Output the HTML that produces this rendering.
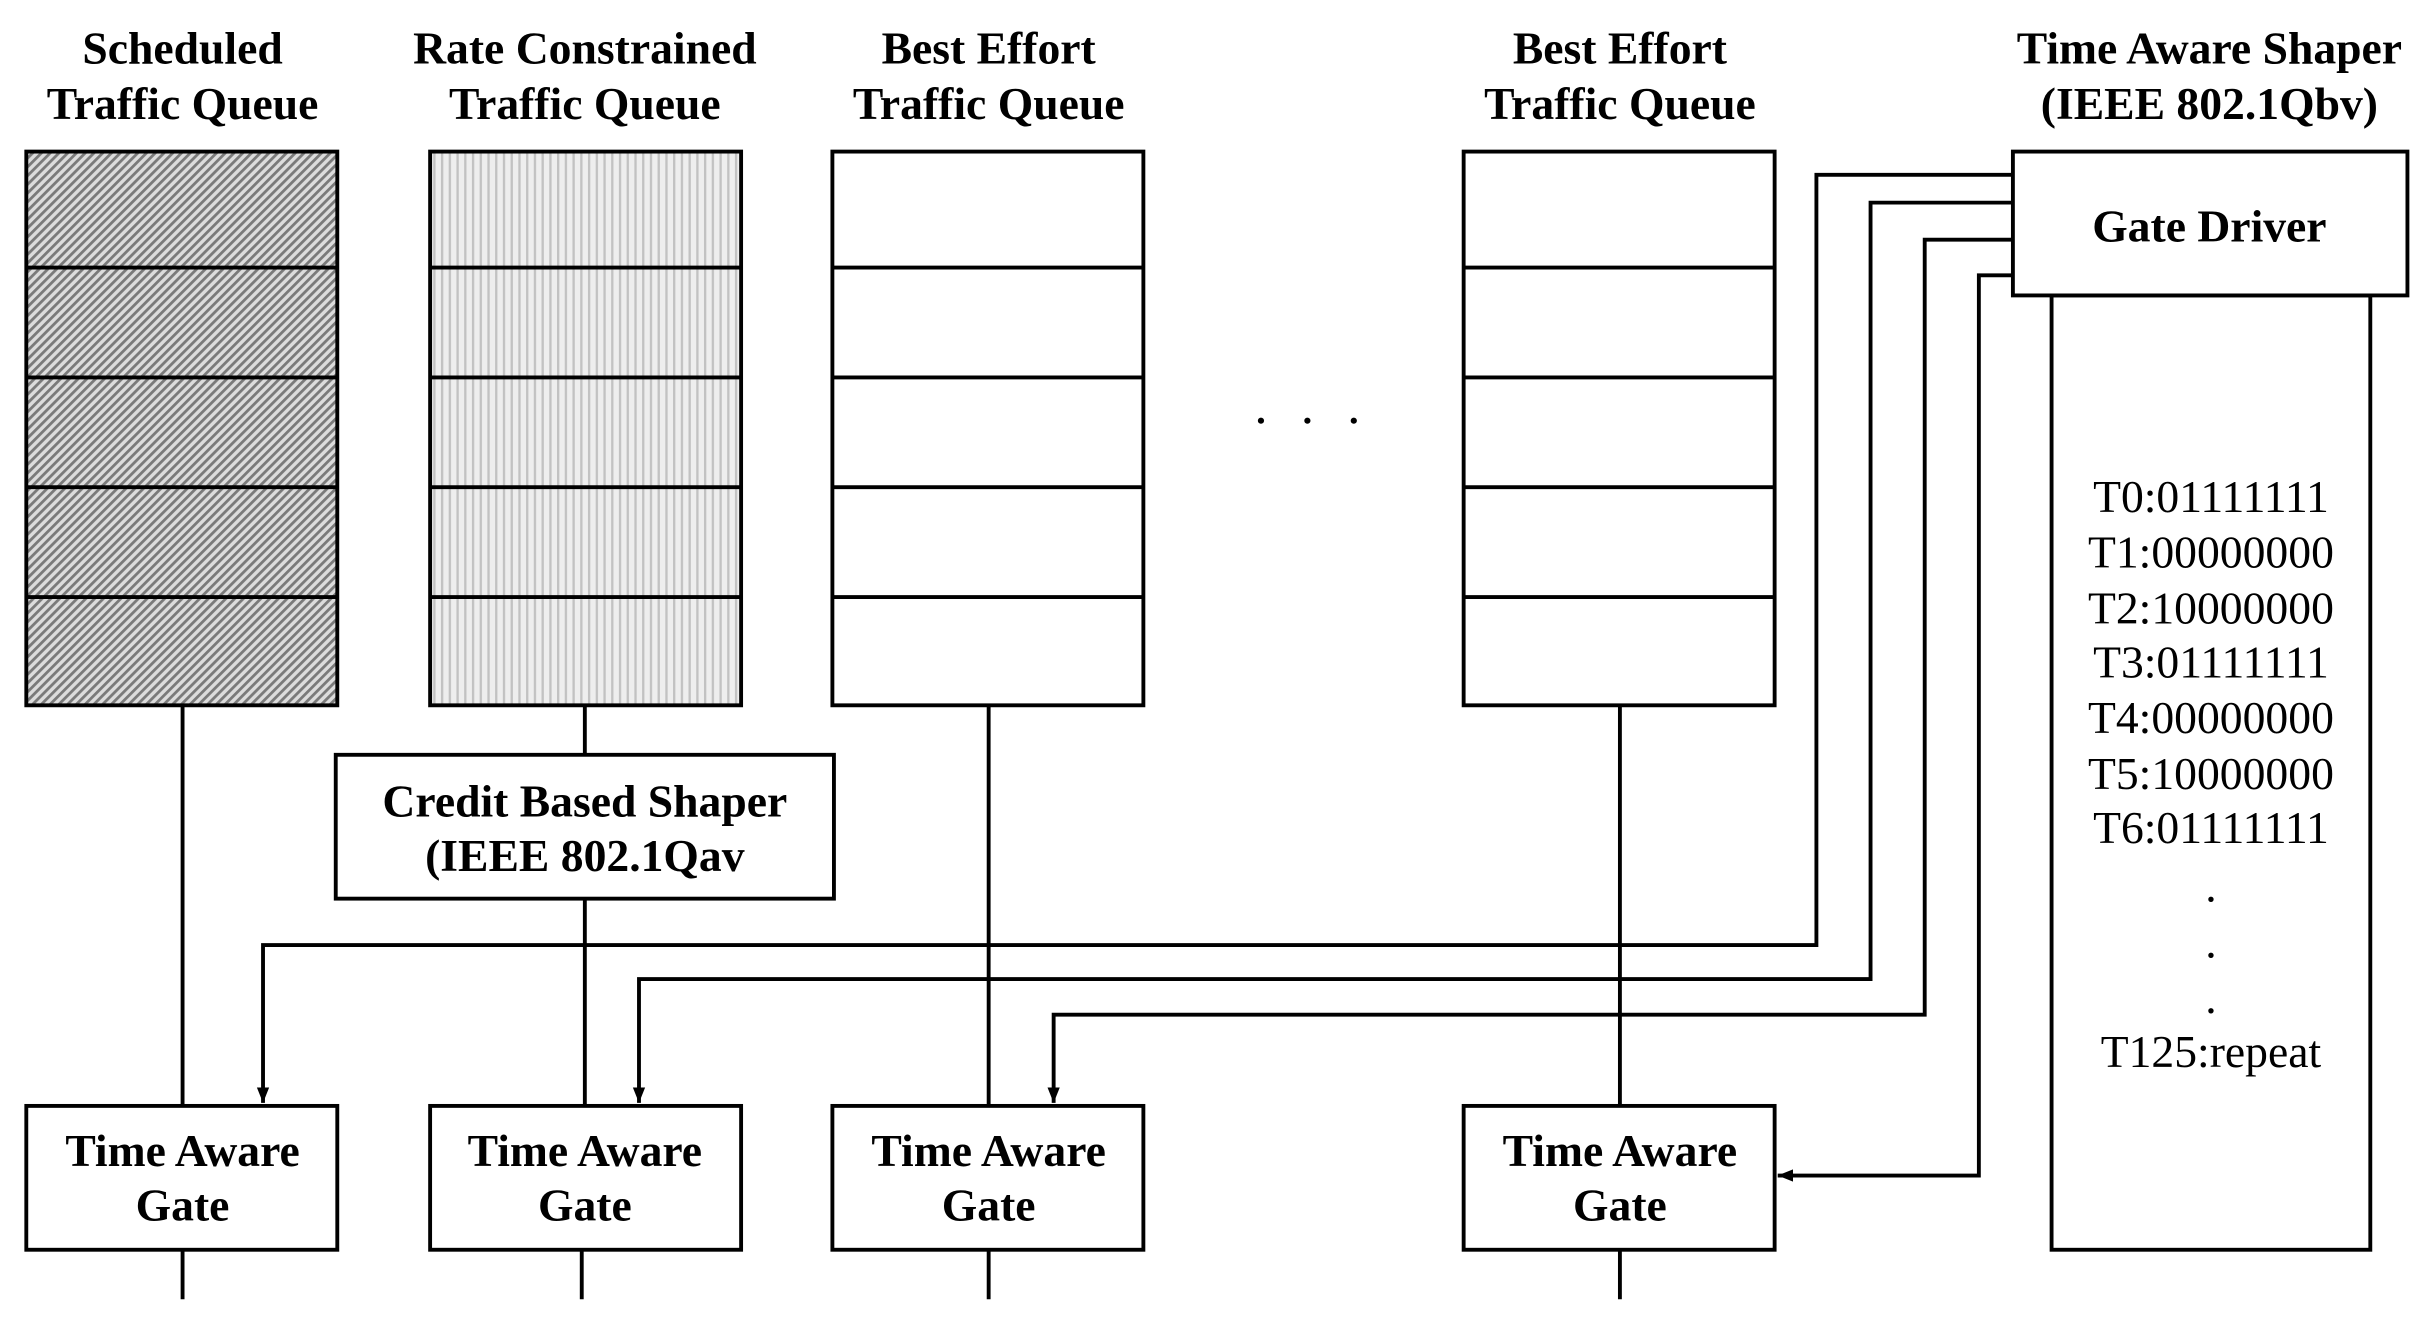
<!DOCTYPE html>
<html><head><meta charset="utf-8"><style>
html,body{margin:0;padding:0;background:#fff;}
svg{display:block;}
text{font-family:"Liberation Serif",serif;fill:#000;}
.b{font-weight:bold;font-size:29.5px;}
.r{font-size:29.5px;}
</style></head><body>
<svg width="2426" height="1324" viewBox="0 0 1568 856" preserveAspectRatio="none" xmlns="http://www.w3.org/2000/svg">
<defs>
<pattern id="hatch" width="4" height="4" patternUnits="userSpaceOnUse" patternTransform="rotate(45)">
<rect width="4" height="4" fill="#dcdcdc"/><rect width="1.8" height="4" fill="#7a7a7a"/>
</pattern>
<pattern id="vert" width="5" height="4" patternUnits="userSpaceOnUse">
<rect width="5" height="4" fill="#eeeeee"/><rect width="1.5" height="4" fill="#c2c2c2"/>
</pattern>
<marker id="ah" viewBox="0 0 10 10" refX="10" refY="5" markerWidth="10" markerHeight="10" markerUnits="userSpaceOnUse" orient="auto">
<path d="M0,1 L10,5 L0,9 z" fill="#000"/>
</marker>
</defs>
<g stroke="#000" stroke-width="2.5" fill="none">
<rect x="17" y="98" width="201" height="358" fill="url(#hatch)"/>
<rect x="278" y="98" width="201" height="358" fill="url(#vert)"/>
<rect x="538" y="98" width="201" height="358" fill="#fff"/>
<rect x="946" y="98" width="201" height="358" fill="#fff"/>
<path d="M17 173H218M17 244H218M17 315H218M17 386H218"/>
<path d="M278 173H479M278 244H479M278 315H479M278 386H479"/>
<path d="M538 173H739M538 244H739M538 315H739M538 386H739"/>
<path d="M946 173H1147M946 244H1147M946 315H1147M946 386H1147"/>
<rect x="217" y="488" width="322" height="93" fill="#fff"/>
<rect x="17" y="715" width="201" height="93"/>
<rect x="278" y="715" width="201" height="93"/>
<rect x="538" y="715" width="201" height="93"/>
<rect x="946" y="715" width="201" height="93"/>
<rect x="1326" y="191" width="206" height="617"/>
<rect x="1301" y="98" width="255" height="93" fill="#fff"/>
<path d="M118 456V715M378 456V488M378 581V715M639 456V715M1047 456V715"/>
<path d="M118 808V840M376 808V840M639 808V840M1047 808V840"/>
<path d="M1301 113H1174V611H170V713" marker-end="url(#ah)"/>
<path d="M1301 131H1209V633H413V713" marker-end="url(#ah)"/>
<path d="M1301 155H1244V656H681V713" marker-end="url(#ah)"/>
<path d="M1301 178H1279V760H1149" marker-end="url(#ah)"/>
</g>
<g fill="#000"><circle cx="815" cy="272" r="2"/><circle cx="845" cy="272" r="2"/><circle cx="875" cy="272" r="2"/></g>
<g text-anchor="middle">
<text class="b" x="118" y="41">Scheduled</text><text class="b" x="118" y="77">Traffic Queue</text>
<text class="b" x="378" y="41">Rate Constrained</text><text class="b" x="378" y="77">Traffic Queue</text>
<text class="b" x="639" y="41">Best Effort</text><text class="b" x="639" y="77">Traffic Queue</text>
<text class="b" x="1047" y="41">Best Effort</text><text class="b" x="1047" y="77">Traffic Queue</text>
<text class="b" x="1428" y="41">Time Aware Shaper</text><text class="b" x="1428" y="77">(IEEE 802.1Qbv)</text>
<text class="b" x="1428" y="156">Gate Driver</text>
<text class="b" x="378" y="528">Credit Based Shaper</text><text class="b" x="378" y="563">(IEEE 802.1Qav</text>
<text class="b" x="118" y="754">Time Aware</text><text class="b" x="118" y="789">Gate</text>
<text class="b" x="378" y="754">Time Aware</text><text class="b" x="378" y="789">Gate</text>
<text class="b" x="639" y="754">Time Aware</text><text class="b" x="639" y="789">Gate</text>
<text class="b" x="1047" y="754">Time Aware</text><text class="b" x="1047" y="789">Gate</text>
<text class="r" x="1429" y="331">T0:01111111</text>
<text class="r" x="1429" y="367">T1:00000000</text>
<text class="r" x="1429" y="403">T2:10000000</text>
<text class="r" x="1429" y="438">T3:01111111</text>
<text class="r" x="1429" y="474">T4:00000000</text>
<text class="r" x="1429" y="510">T5:10000000</text>
<text class="r" x="1429" y="545">T6:01111111</text>
<text class="r" x="1429" y="583">.</text>
<text class="r" x="1429" y="619">.</text>
<text class="r" x="1429" y="655">.</text>
<text class="r" x="1429" y="690">T125:repeat</text>
</g>
</svg>
</body></html>
